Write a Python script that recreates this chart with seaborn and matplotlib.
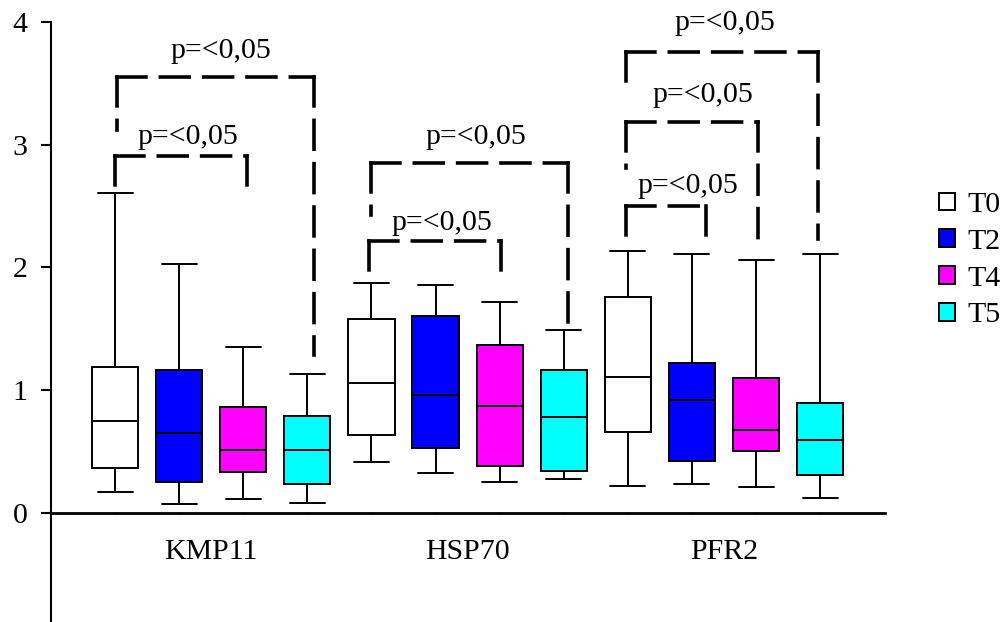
import numpy as np
import pandas as pd
import matplotlib
matplotlib.use("Agg")
import matplotlib.pyplot as plt
import seaborn as sns

# five-number summaries: min, Q1, median, Q3, max
genes = ['KMP11', 'HSP70', 'PFR2']
times = ['T0', 'T2', 'T4', 'T5']
colores = ['#FFFFFF', '#0000FF', '#FF00FF', '#00FFFF']

kmp11 = [[0.17, 0.36, 0.75, 1.19, 2.61],
         [0.07, 0.25, 0.65, 1.16, 2.03],
         [0.11, 0.33, 0.51, 0.86, 1.35],
         [0.08, 0.23, 0.51, 0.79, 1.13]]
hsp70 = [[0.41, 0.63, 1.06, 1.58, 1.87],
         [0.32, 0.53, 0.96, 1.60, 1.86],
         [0.25, 0.38, 0.87, 1.37, 1.72],
         [0.27, 0.34, 0.78, 1.16, 1.49]]
pfr2 = [[0.22, 0.66, 1.11, 1.76, 2.13],
        [0.23, 0.42, 0.92, 1.22, 2.11],
        [0.21, 0.50, 0.67, 1.10, 2.06],
        [0.12, 0.31, 0.59, 0.89, 2.11]]

# significance brackets: x left, x right, top, left end, right end
brackets = [(-0.368, 0.401, 3.555, 3.12, 1.285),
            (-0.375, 0.139, 2.91, 2.66, 2.65),
            (0.624, 1.392, 2.853, 2.43, 1.548),
            (0.617, 1.131, 2.217, 1.964, 1.953),
            (1.618, 2.368, 3.754, 3.514, 2.228),
            (1.618, 2.134, 3.183, 2.81, 2.209),
            (1.618, 1.930, 2.502, 2.245, 2.245)]
etiqueta = 'p=<0,05'
etiqueta_pos = [(0.039, 3.705), (-0.092, 3.011), (1.031, 3.01), (0.899, 2.304),
                (2.004, 3.935), (1.916, 3.351), (1.859, 2.604)]

filas = []
for g, datos in zip(genes, [kmp11, hsp70, pfr2]):
    for t, vals in zip(times, datos):
        for v in vals:
            filas.append((g, t, v))
df = pd.DataFrame(filas, columns=['gen', 'tiempo', 'valor'])

sns.set_theme(style='ticks')
plt.rcParams['font.family'] = ['Liberation Serif', 'DejaVu Serif']
plt.rcParams['font.size'] = 21.5
plt.rcParams['text.color'] = 'black'

fig = plt.figure(figsize=(10.05, 6.22), dpi=100)
ax = fig.add_axes([51 / 1005, 0, 834 / 1005, (622 - 22.3) / 622])

sns.boxplot(data=df, x='gen', y='valor', hue='tiempo', order=genes, hue_order=times,
            palette=colores, saturation=1, whis=(0, 100), width=1.0, gap=0.28,
            linecolor='black', linewidth=1.4, capwidths=0.1365, ax=ax)

# brackets, each piece dashed from the top corner
estilo = dict(color='black', lw=2.6, linestyle=(0, (8, 4)), dash_capstyle='projecting')
for xa, xb, top, ya, yb in brackets:
    ax.plot([xa, xa], [top, ya], **estilo)
    ax.plot([xa, xb], [top, top], **estilo)
    ax.plot([xb, xb], [top, yb], **estilo)
for x, y in etiqueta_pos:
    ax.text(x, y, etiqueta, ha='center', va='baseline', fontsize=21.5, color='black')

ax.set_xlim(-0.625, 2.628)
ax.set_ylim(-0.893, 4)
ax.set_yticks([0, 1, 2, 3, 4])
ax.set_xlabel('')
ax.set_ylabel('')
ax.spines['top'].set_visible(False)
ax.spines['right'].set_visible(False)
ax.spines['bottom'].set_position(('data', 0))
ax.spines['bottom'].set_linewidth(2)
ax.spines['left'].set_linewidth(1.5)
ax.spines['left'].set_color('black')
ax.spines['bottom'].set_color('black')

ax.set_xticks([g + (h - 1.5) * 0.25 for g in range(3) for h in range(4)], minor=True)
ax.tick_params(axis='x', which='major', length=0, pad=19, labelsize=21.5, colors='black')
ax.tick_params(axis='x', which='minor', length=2, direction='inout', width=1, color='black')
ax.tick_params(axis='y', length=7, width=1.5, pad=10, labelsize=21.5, colors='black')

sns.move_legend(ax, loc='upper left', bbox_to_anchor=(939 / 1005, 1 - 192 / 622),
                bbox_transform=fig.transFigure, frameon=False, title=None,
                fontsize=21.5, handlelength=0.54, handleheight=0.54,
                handletextpad=0.4, labelspacing=0.36, borderpad=0, borderaxespad=0)

fig.savefig('out.png', dpi=100)
